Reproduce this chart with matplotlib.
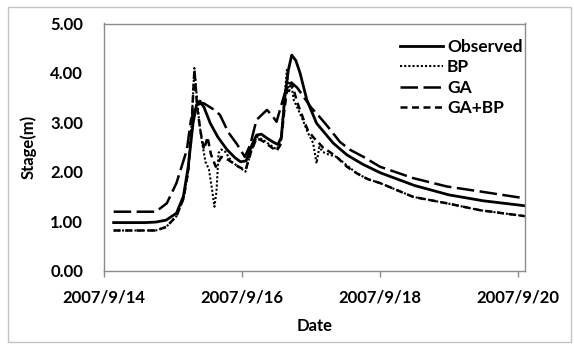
import matplotlib
matplotlib.use("Agg")
import matplotlib.pyplot as plt
from matplotlib.patches import Rectangle

# ---- data (time in days after 2007/9/14 00:00, stage in m) ----
obs_t = [0.14, 0.60, 0.75, 0.90, 1.05, 1.15, 1.22, 1.29, 1.34, 1.39, 1.45, 1.54, 1.65, 1.78,
         1.90, 1.98, 2.06, 2.13, 2.21, 2.28, 2.36, 2.45, 2.52, 2.57, 2.62, 2.67, 2.72, 2.78,
         2.84, 2.94, 3.08, 3.32, 3.52, 3.75, 4.00, 4.50, 5.00, 5.50, 6.10]
obs_v = [0.97, 0.97, 0.98, 1.02, 1.16, 1.50, 2.10, 2.98, 3.35, 3.43, 3.30, 2.98, 2.70, 2.45,
         2.28, 2.20, 2.22, 2.50, 2.74, 2.76, 2.68, 2.60, 2.55, 2.70, 3.50, 4.05, 4.36, 4.25,
         4.00, 3.45, 2.98, 2.58, 2.34, 2.15, 1.98, 1.72, 1.53, 1.41, 1.31]

bp_t = [0.14, 0.75, 0.90, 1.05, 1.15, 1.22, 1.27, 1.31, 1.34, 1.38, 1.42, 1.47, 1.52, 1.57,
        1.60, 1.63, 1.66, 1.70, 1.76, 1.85, 1.95, 2.05, 2.13, 2.21, 2.30, 2.40, 2.50, 2.56,
        2.61, 2.65, 2.68, 2.71, 2.75, 2.80, 2.88, 2.95, 3.03, 3.08, 3.12, 3.17, 3.25, 3.37,
        3.50, 3.66, 3.82, 4.00, 4.48, 4.97, 5.45, 6.10]
bp_v = [0.81, 0.81, 0.88, 1.10, 1.45, 2.00, 3.00, 4.10, 3.60, 3.00, 2.60, 2.20, 2.05, 1.60,
        1.29, 1.60, 2.38, 2.45, 2.40, 2.20, 2.10, 2.00, 2.40, 2.71, 2.65, 2.55, 2.45, 2.60,
        3.40, 4.06, 3.60, 3.80, 3.45, 3.30, 3.05, 2.80, 2.58, 2.17, 2.50, 2.40, 2.35, 2.30,
        2.15, 1.97, 1.85, 1.77, 1.49, 1.36, 1.22, 1.10]

ga_t = [0.14, 0.75, 0.91, 1.05, 1.20, 1.26, 1.34, 1.44, 1.60, 1.68, 1.80, 1.93, 2.04, 2.12,
        2.21, 2.36, 2.43, 2.50, 2.58, 2.66, 2.72, 2.80, 2.90, 3.00, 3.13, 3.25, 3.42, 3.57,
        3.76, 4.00, 4.48, 4.97, 5.45, 6.10]
ga_v = [1.19, 1.19, 1.36, 1.77, 2.44, 3.05, 3.35, 3.39, 3.25, 3.15, 2.80, 2.55, 2.30, 2.55,
        3.05, 3.25, 3.15, 3.01, 3.40, 3.78, 3.80, 3.70, 3.50, 3.30, 3.10, 2.90, 2.60, 2.44,
        2.30, 2.10, 1.87, 1.70, 1.60, 1.46]

gabp_t = [0.14, 0.75, 0.90, 1.05, 1.15, 1.22, 1.27, 1.31, 1.35, 1.40, 1.45, 1.50, 1.55, 1.62,
          1.70, 1.80, 1.95, 2.05, 2.13, 2.21, 2.30, 2.40, 2.50, 2.56, 2.61, 2.66, 2.72, 2.80,
          2.88, 2.95, 3.03, 3.10, 3.18, 3.27, 3.37, 3.52, 3.66, 3.82, 4.00, 4.48, 4.97, 5.45,
          6.10]
gabp_v = [0.81, 0.81, 0.88, 1.10, 1.45, 2.00, 3.00, 4.05, 3.30, 2.80, 2.45, 2.70, 2.35, 2.10,
          2.30, 2.24, 2.10, 2.03, 2.40, 2.68, 2.62, 2.52, 2.42, 2.55, 3.20, 3.75, 3.80, 3.40,
          3.10, 2.85, 2.70, 2.60, 2.48, 2.40, 2.30, 2.10, 1.97, 1.85, 1.77, 1.49, 1.36, 1.22,
          1.10]

xtick_pos = [0, 2, 4, 6]
xtick_labels = ["2007/9/14", "2007/9/16", "2007/9/18", "2007/9/20"]
ytick_pos = [0, 1, 2, 3, 4, 5]

plt.rcParams['font.family'] = ['Lato', 'DejaVu Sans']
plt.rcParams['font.weight'] = 'bold'

W, H = 574, 347
fig = plt.figure(figsize=(W / 100, H / 100), dpi=100)
fig.patches.append(Rectangle((8 / W, 5 / H), 563 / W, 335 / H, transform=fig.transFigure,
                             fill=False, edgecolor='#c4c4c4', linewidth=1.0))

ax = fig.add_axes([104 / W, 1 - 270.5 / H, (525 - 104) / W, (270.5 - 23.5) / H])

ax.plot(obs_t, obs_v, color='black', lw=2.0, ls='-', label='Observed')
ax.plot(bp_t, bp_v, color='black', lw=1.5, ls=(0, (1, 1)), label='BP')
ax.plot(ga_t, ga_v, color='black', lw=1.8, ls=(0, (7, 2.2)), label='GA')
ax.plot(gabp_t, gabp_v, color='black', lw=1.8, ls=(0, (2.8, 1.8)), label='GA+BP')

ax.set_xlim(0, 6.10)
ax.set_ylim(0, 5)
ax.set_xticks(xtick_pos)
ax.set_xticklabels(xtick_labels)
ax.set_yticks(ytick_pos)
ax.set_yticklabels([f"{v:.2f}" for v in ytick_pos])
ax.tick_params(axis='y', length=0, pad=15, labelsize=12)
ax.tick_params(axis='x', length=4, width=1, color='#8c8c8c', pad=10, labelsize=12)
for s in ax.spines.values():
    s.set_color('#8c8c8c')
    s.set_linewidth(1.0)

ax.set_xlabel('Date', fontsize=12, fontweight='bold', labelpad=9)
ax.set_ylabel('Stage(m)', fontsize=12, fontweight='bold', labelpad=10)

leg = ax.legend(loc='upper left', bbox_to_anchor=(400 / W, 1 - 39 / H),
                bbox_transform=fig.transFigure, frameon=False, fontsize=12.5,
                handlelength=2.5, handletextpad=0.2, labelspacing=0.25,
                borderpad=0, borderaxespad=0)

fig.savefig('out.png', dpi=100)
